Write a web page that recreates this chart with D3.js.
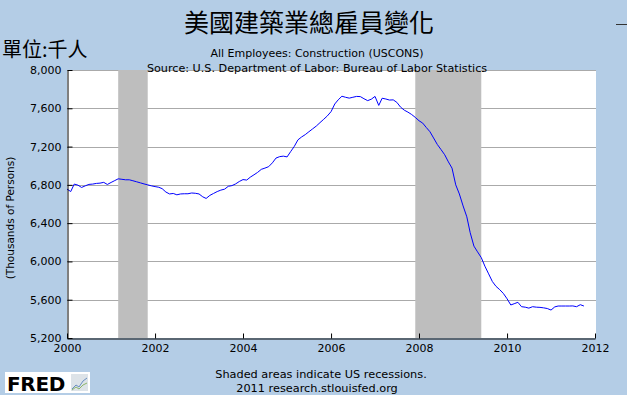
<!DOCTYPE html>
<html>
<head>
<meta charset="utf-8">
<title>美國建築業總雇員變化</title>
<script src="https://cdn.jsdelivr.net/npm/d3@7"></script>
<style>
  body { margin: 0; background: #b4cde6; }
  text { font-family: "DejaVu Sans", sans-serif; fill: #000; }
</style>
</head>
<body>
<script>
// Daten: USCONS, monatlich ab Jan 2000 (Tausend Personen)
var startYear = 2000;
var employees = [
  6756, 6730, 6808, 6797, 6773, 6790, 6805, 6808, 6815, 6818, 6826, 6804,
  6825, 6845, 6863, 6858, 6853, 6853, 6843, 6832, 6821, 6810, 6800, 6790,
  6782, 6775, 6760, 6725, 6705, 6710, 6696, 6705, 6707, 6707, 6715, 6712,
  6705, 6675, 6658, 6690, 6710, 6730, 6745, 6755, 6785, 6792, 6810, 6835,
  6855, 6850, 6880, 6905, 6930, 6962, 6975, 6990, 7030, 7080, 7095, 7100,
  7092, 7150, 7200, 7270, 7300, 7325, 7355, 7385, 7415, 7450, 7485, 7520,
  7565, 7645, 7688, 7726, 7715, 7706, 7715, 7724, 7722, 7700, 7680, 7695,
  7724, 7630, 7705, 7697, 7686, 7688, 7662, 7612, 7580, 7560, 7535, 7505,
  7470, 7445, 7400, 7355, 7290, 7222, 7170, 7115, 7040, 6975, 6800, 6705,
  6580, 6466, 6300, 6160, 6100, 6040, 5950, 5870, 5790, 5740, 5705, 5666,
  5610, 5545, 5558, 5573, 5527, 5522, 5512, 5527, 5522, 5520, 5515, 5508,
  5492, 5525, 5534, 5534, 5534, 5534, 5535, 5527, 5548, 5534
];
// Rezessionen (Beginn, Ende)
var recessions = [["2001-03-01", "2001-11-01"], ["2007-12-01", "2009-06-01"]];
var yTicks = [5200, 5600, 6000, 6400, 6800, 7200, 7600, 8000];
var xTickYears = [2000, 2002, 2004, 2006, 2008, 2010, 2012];

var breite = 627, hoehe = 395;
var links = 67, rechts = 595, oben = 70, unten = 338;

var svg = d3.select("body").append("svg")
  .attr("width", breite).attr("height", hoehe)
  .style("display", "block");

var x = d3.scaleTime()
  .domain([new Date(2000, 0, 1), new Date(2012, 0, 1)])
  .range([links, rechts]);
var y = d3.scaleLinear().domain([5200, 8000]).range([unten, oben]);

var punkte = employees.map(function(v, i) {
  return { datum: new Date(startYear, i, 1), wert: v };
});

// Zeichenfläche
svg.append("rect")
  .attr("x", links).attr("y", oben)
  .attr("width", rechts - links + 1).attr("height", unten - oben)
  .attr("fill", "#ffffff");

// Gitterlinien
svg.selectAll("line.grid")
  .data(yTicks.filter(function(d) { return d > 5200; }))
  .enter().append("line")
  .attr("class", "grid")
  .attr("x1", links).attr("x2", rechts + 1)
  .attr("y1", function(d) { return Math.round(y(d)) + 0.5; })
  .attr("y2", function(d) { return Math.round(y(d)) + 0.5; })
  .attr("stroke", "#aaaaaa").attr("stroke-width", 1);

// Rezessionsbalken
svg.selectAll("rect.rez")
  .data(recessions)
  .enter().append("rect")
  .attr("class", "rez")
  .attr("x", function(d) { return x(new Date(d[0])); })
  .attr("y", oben)
  .attr("width", function(d) { return x(new Date(d[1])) - x(new Date(d[0])); })
  .attr("height", unten - oben)
  .attr("fill", "#bebebe");

// Linie
var linie = d3.line()
  .x(function(d) { return x(d.datum); })
  .y(function(d) { return y(d.wert); });

svg.append("path")
  .datum(punkte)
  .attr("d", linie)
  .attr("fill", "none")
  .attr("stroke", "#0000ff")
  .attr("stroke-width", 1);

// Achsen
var yAchse = d3.axisLeft(y)
  .tickValues(yTicks)
  .tickFormat(d3.format(","))
  .tickSizeInner(-5).tickSizeOuter(0).tickPadding(6);

var gy = svg.append("g")
  .attr("transform", "translate(" + (links + 0.5) + ",0)")
  .call(yAchse);
gy.select(".domain").attr("stroke", "#000");
gy.selectAll(".tick line").attr("stroke", "#000");
gy.selectAll(".tick text").attr("font-size", 11).attr("font-family", "DejaVu Sans").attr("fill", "#000");

var xAchse = d3.axisBottom(x)
  .tickValues(xTickYears.map(function(j) { return new Date(j, 0, 1); }))
  .tickFormat(d3.timeFormat("%Y"))
  .tickSizeInner(-5).tickSizeOuter(0).tickPadding(6);

var gx = svg.append("g")
  .attr("transform", "translate(0," + (unten + 0.5) + ")")
  .call(xAchse);
gx.select(".domain").attr("stroke", "#000");
gx.selectAll(".tick line").attr("stroke", "#000");
gx.selectAll(".tick text").attr("font-size", 11).attr("font-family", "DejaVu Sans").attr("fill", "#000");

// Achsentitel
svg.append("text")
  .attr("transform", "translate(14,218) rotate(-90)")
  .attr("text-anchor", "middle")
  .attr("font-size", 10.5)
  .text("(Thousands of Persons)");

// Titel und Untertitel
svg.append("text")
  .attr("x", 309).attr("y", 32)
  .attr("text-anchor", "middle")
  .attr("font-size", 25)
  .style("font-family", "'Noto Sans CJK TC', sans-serif")
  .text("美國建築業總雇員變化");

svg.append("text")
  .attr("x", 2).attr("y", 57)
  .attr("font-size", 20)
  .style("font-family", "'Noto Sans CJK TC', sans-serif")
  .text("單位:千人");

svg.append("text")
  .attr("x", 317).attr("y", 57)
  .attr("text-anchor", "middle")
  .attr("font-size", 11)
  .text("All Employees: Construction (USCONS)");

svg.append("text")
  .attr("x", 317).attr("y", 72)
  .attr("text-anchor", "middle")
  .attr("font-size", 11.2)
  .text("Source: U.S. Department of Labor: Bureau of Labor Statistics");

// Fußzeile
svg.append("text")
  .attr("x", 321).attr("y", 378)
  .attr("text-anchor", "middle")
  .attr("font-size", 11.3)
  .text("Shaded areas indicate US recessions.");

svg.append("text")
  .attr("x", 317).attr("y", 392)
  .attr("text-anchor", "middle")
  .attr("font-size", 11.3)
  .text("2011 research.stlouisfed.org");

// FRED Logo
var logo = svg.append("g");
logo.append("rect")
  .attr("x", 5).attr("y", 372).attr("width", 85).attr("height", 21)
  .attr("fill", "#ffffff");
logo.append("text")
  .attr("x", 7).attr("y", 390.5)
  .attr("font-size", 20).attr("font-weight", "bold")
  .style("font-family", "'DejaVu Sans', sans-serif")
  .style("letter-spacing", "-0.3px")
  .attr("fill", "#1a1a1a")
  .text("FRED");
logo.append("rect")
  .attr("x", 71).attr("y", 374).attr("width", 17).attr("height", 17)
  .attr("fill", "#dde3e8");
logo.append("path")
  .attr("d", "M72,389 L76,385 L79,387 L83,381 L87,378")
  .attr("fill", "none").attr("stroke", "#6a8fc0").attr("stroke-width", 1);
logo.append("path")
  .attr("d", "M72,390 L76,387 L79,389 L83,385 L87,383")
  .attr("fill", "none").attr("stroke", "#8cb56a").attr("stroke-width", 1);

// kleiner Strich oben rechts
svg.append("line")
  .attr("x1", 616).attr("x2", 627).attr("y1", 24.5).attr("y2", 24.5)
  .attr("stroke", "#333");
</script>
</body>
</html>
